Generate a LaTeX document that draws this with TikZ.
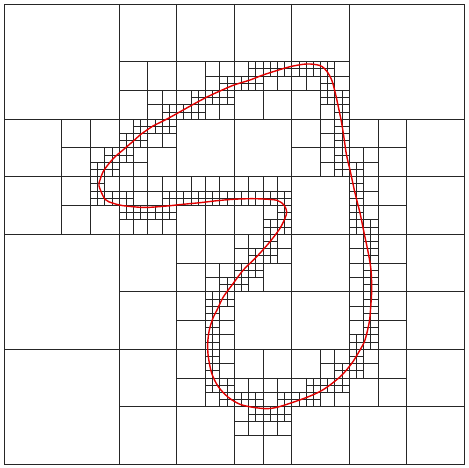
\documentclass[tikz,border=0pt]{standalone}
\newcommand\qtlist{}
\newcommand\qtcs{7.1922}
\newcommand\qtadd[3]{%
  \ifcsname qtm-#1-#2-#3\endcsname\else
    \expandafter\gdef\csname qtm-#1-#2-#3\endcsname{}%
    \xdef\qtlist{\unexpanded\expandafter{\qtlist}\noexpand\qtcell{#1}{#2}{#3}}%
  \fi}
\newcommand\qtrec[2]{%
  \pgfmathtruncatemacro\qti{(#1-4)/\qtcs}%
  \pgfmathtruncatemacro\qtj{(#2-4)/\qtcs}%
  \foreach \s in {2,4,8,16,32,64}{%
    \edef\qtci{\the\numexpr(2*\qti-\s+1)/(2*\s)\relax}%
    \edef\qtcj{\the\numexpr(2*\qtj-\s+1)/(2*\s)\relax}%
    \qtadd{\s}{\qtci}{\qtcj}}%
}
\newcommand\qtcell[3]{%
  \pgfmathsetmacro\qxa{4+#2*#1*\qtcs}%
  \pgfmathsetmacro\qxb{4+(#2+1)*#1*\qtcs}%
  \pgfmathsetmacro\qxm{4+(#2+0.5)*#1*\qtcs}%
  \pgfmathsetmacro\qya{4+#3*#1*\qtcs}%
  \pgfmathsetmacro\qyb{4+(#3+1)*#1*\qtcs}%
  \pgfmathsetmacro\qym{4+(#3+0.5)*#1*\qtcs}%
  \draw[qtline] (\qxm,\qya) -- (\qxm,\qyb) (\qxa,\qym) -- (\qxb,\qym);%
}
\begin{document}
\begin{tikzpicture}[x=1pt,y=-1pt,
  qtline/.style={draw=black!85,line width=0.75pt},
  curve/.style={draw={rgb,255:red,225;green,0;blue,0},line width=1.4pt}]
\useasboundingbox (0,0) rectangle (469,468);
\gdef\qpx{100}\gdef\qpy{192}%
\foreach \px/\py in {99/186, 100/180, 103/172, 107/166, 112/160, 117/155, 123/150, 127/146.5, 134/140.5, 140/135, 147/130, 153/126, 160/122.5, 167/119, 177/113.5, 193/104.5, 207/97, 220/91, 234/85, 250/80, 263/75, 277/70.5, 290/66.7, 303/64.3, 310/64, 317/64.8, 322/66.5, 327/71.5, 331.7/80, 335/91.7, 338.3/106.7, 341.7/123.3, 344.3/140, 346.5/155, 350/170, 355/193, 360/213, 364.3/234, 368.3/253, 371/270, 371.7/290, 370.7/307, 369.3/322, 365/340, 360/350, 352/363, 342/375, 330/385, 320/391.5, 307/397.3, 290/403.3, 277/407.3, 267/408.7, 253/407.3, 240/404.3, 228.3/397.3, 218.3/386.7, 211.7/373.3, 208.3/356.7, 207.7/343.3, 209.3/330, 213/318, 217/310, 223.3/297, 233.3/283.3, 243.3/270, 256.7/256.7, 270/241.7, 280/228.3, 285/218.3, 286.7/211.7, 284/205, 277/200.3, 263/199, 250/198.7, 233/199.3, 217/200.7, 200/202.7, 183/204.3, 167/206, 150/207.3, 140/207.3, 123.3/205.7, 113.3/203.3, 105/199.3, 100/192}{%
  \pgfmathsetmacro\qlen{veclen(\px-\qpx,\py-\qpy)}%
  \pgfmathtruncatemacro\qn{ceil(\qlen/0.7)+1}%
  \foreach \k in {0,...,\qn}{%
    \pgfmathsetmacro\qsx{\qpx+(\px-\qpx)*\k/\qn}%
    \pgfmathsetmacro\qsy{\qpy+(\py-\qpy)*\k/\qn}%
    \qtrec{\qsx}{\qsy}}%
  \xdef\qpx{\px}\xdef\qpy{\py}%
}
\qtlist
\draw[qtline] (4,4) rectangle (464.3,464.3);
\draw[curve] plot[smooth cycle] coordinates {(99,186) (100,180) (103,172) (107,166) (112,160) (117,155) (123,150) (127,146.5) (134,140.5) (140,135) (147,130) (153,126) (160,122.5) (167,119) (177,113.5) (193,104.5) (207,97) (220,91) (234,85) (250,80) (263,75) (277,70.5) (290,66.7) (303,64.3) (310,64) (317,64.8) (322,66.5) (327,71.5) (331.7,80) (335,91.7) (338.3,106.7) (341.7,123.3) (344.3,140) (346.5,155) (350,170) (355,193) (360,213) (364.3,234) (368.3,253) (371,270) (371.7,290) (370.7,307) (369.3,322) (365,340) (360,350) (352,363) (342,375) (330,385) (320,391.5) (307,397.3) (290,403.3) (277,407.3) (267,408.7) (253,407.3) (240,404.3) (228.3,397.3) (218.3,386.7) (211.7,373.3) (208.3,356.7) (207.7,343.3) (209.3,330) (213,318) (217,310) (223.3,297) (233.3,283.3) (243.3,270) (256.7,256.7) (270,241.7) (280,228.3) (285,218.3) (286.7,211.7) (284,205) (277,200.3) (263,199) (250,198.7) (233,199.3) (217,200.7) (200,202.7) (183,204.3) (167,206) (150,207.3) (140,207.3) (123.3,205.7) (113.3,203.3) (105,199.3)};
\end{tikzpicture}
\end{document}
